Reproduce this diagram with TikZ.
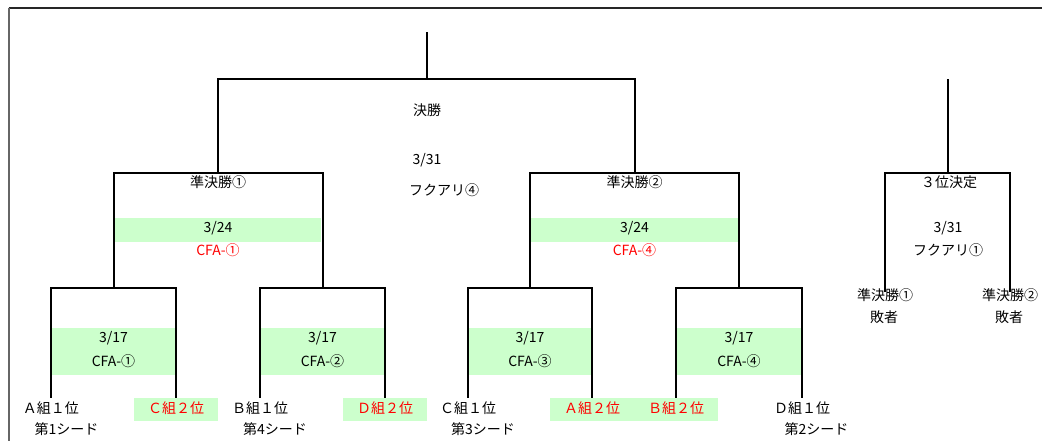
\documentclass[tikz,border=0pt]{standalone}
\usepackage{fontspec}
\newfontfamily\jpfont{Noto Sans CJK JP}
\definecolor{cellgreen}{HTML}{CCFFCC}
\definecolor{cellred}{HTML}{FF0000}
\tikzset{
    bline/.style = {line width=2pt},
    lbl/.style = {font=\jpfont\fontsize{14}{16}\selectfont, inner sep=0pt, text height=0.84em, text depth=0.12em},
    redlbl/.style = {lbl, text=cellred},
    team/.style = {lbl, minimum width=84pt, minimum height=23pt},
    redteam/.style = {team, text=cellred, fill=cellgreen},
}
\begin{document}
\begin{tikzpicture}[x=1pt, y=-1pt]
    \useasboundingbox (0,0) rectangle (1042,441);

    % Draw the frame
    \draw[line width=2pt, black!85] (8.5,8.5) -- (1042,8.5);
    \draw[line width=2pt, black!60] (8.5,8.5) -- (8.5,441);

    % Green bands
    \fill[cellgreen] (115,218) rectangle (321,242);
    \fill[cellgreen] (531,218) rectangle (738,242);
    \foreach \xl/\xr in {51/176, 260/385, 468/592, 676/802}
        \fill[cellgreen] (\xl,328) rectangle (\xr,375);

    % Teams
    \node[team]    (tA1) at (51,409.5)  {Ａ組１位};
    \node[redteam] (tC2) at (176,409.5) {Ｃ組２位};
    \node[team]    (tB1) at (260,409.5) {Ｂ組１位};
    \node[redteam] (tD2) at (385,409.5) {Ｄ組２位};
    \node[team]    (tC1) at (468,409.5) {Ｃ組１位};
    \node[redteam] (tA2) at (592,409.5) {Ａ組２位};
    \node[redteam] (tB2) at (676,409.5) {Ｂ組２位};
    \node[team]    (tD1) at (802,409.5) {Ｄ組１位};

    % Seeds
    \foreach \n/\x/\s in {1/66.5/1, 2/275/4, 3/483/3, 4/816.5/2}
        \node[lbl] (seed\n) at (\x,431) {第\s シード};

    % Quarter-finals
    \foreach \q/\x/\k in {q1/113.5/①, q2/322.5/②, q3/530/③, q4/739/④}{
        \coordinate (\q) at (\x,288);
        \node[lbl] (\q-date) at (\x,339) {3/17};
        \node[lbl] (\q-place) at (\x,363) {CFA-\k};
    }
    \draw[bline] (tA1.north) |- (q1) -| (tC2.north);
    \draw[bline] (tB1.north) |- (q2) -| (tD2.north);
    \draw[bline] (tC1.north) |- (q3) -| (tA2.north);
    \draw[bline] (tB2.north) |- (q4) -| (tD1.north);

    % Semi-finals
    \foreach \s/\x/\k/\p in {s1/218/①/①, s2/634.5/②/④}{
        \coordinate (\s) at (\x,173);
        \node[lbl] (\s-name) at (\x,184) {準決勝\k};
        \node[lbl] (\s-date) at (\x,229) {3/24};
        \node[redlbl] (\s-place) at (\x,252) {CFA-\p};
    }
    \draw[bline] (q1) |- (s1) -| (q2);
    \draw[bline] (q3) |- (s2) -| (q4);

    % Final
    \coordinate (fin) at (426.5,79);
    \coordinate (fin-end) at (426.5,32);
    \draw[bline] (s1) |- (fin) -| (s2);
    \draw[bline] (fin) -- (fin-end);
    \node[lbl] (fin-name) at (427,112) {決勝};
    \node[lbl] (fin-date) at (427,161) {3/31};
    \node[lbl, anchor=west] (fin-place) at (409,192) {フクアリ④};

    % Third place
    \coordinate (third) at (947.5,173);
    \coordinate (third-end) at (947.5,79);
    \node[lbl] (lose1) at (885,297) {準決勝①};
    \node[lbl] (lose1b) at (884,319) {敗者};
    \node[lbl] (lose2) at (1010,297) {準決勝②};
    \node[lbl] (lose2b) at (1009,319) {敗者};
    \draw[bline] (lose1.north) |- (third) -| (lose2.north);
    \draw[bline] (third) -- (third-end);
    \node[lbl] (third-name) at (949,184) {３位決定};
    \node[lbl] (third-date) at (948,229) {3/31};
    \node[lbl] (third-place) at (948,252) {フクアリ①};

\end{tikzpicture}
\end{document}
